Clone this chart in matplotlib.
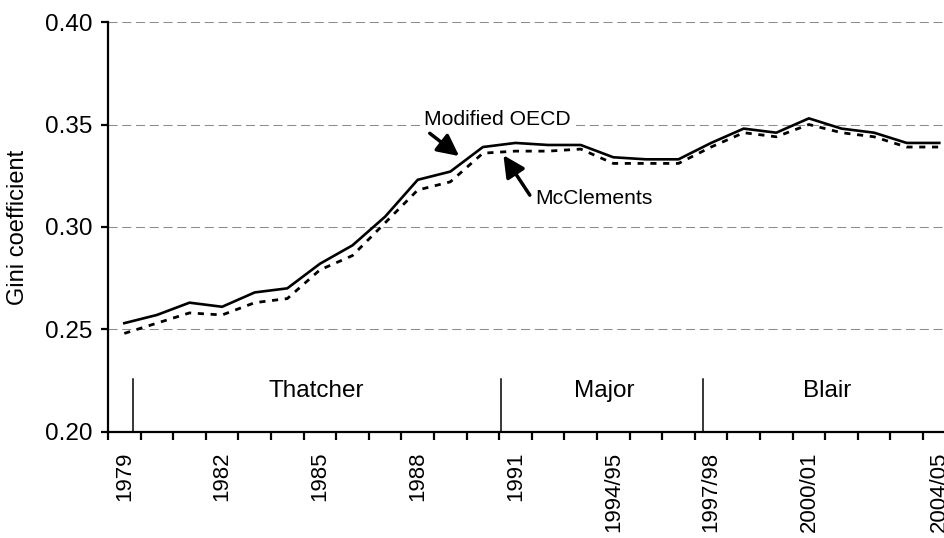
import numpy as np
import matplotlib
matplotlib.use("Agg")
import matplotlib.pyplot as plt

plt.rcParams['font.family'] = ['Liberation Sans', 'DejaVu Sans']

# categories: calendar years to 1992, financial years after
years = [str(y) for y in range(1979, 1993)] + \
        ['1993/94', '1994/95', '1995/96', '1996/97', '1997/98', '1998/99',
         '1999/00', '2000/01', '2001/02', '2002/03', '2003/04', '2004/05']
shown_labels = ['1979', '1982', '1985', '1988', '1991', '1994/95',
                '1997/98', '2000/01', '2004/05']

modified_oecd = [0.253, 0.257, 0.263, 0.261, 0.268, 0.270, 0.282, 0.291,
                 0.305, 0.323, 0.327, 0.339, 0.341, 0.340, 0.340, 0.334,
                 0.333, 0.333, 0.341, 0.348, 0.346, 0.353, 0.348, 0.346,
                 0.341, 0.341]
mcclements = [0.248, 0.253, 0.258, 0.257, 0.263, 0.265, 0.279, 0.286,
              0.302, 0.318, 0.322, 0.336, 0.337, 0.337, 0.338, 0.331,
              0.331, 0.331, 0.339, 0.346, 0.344, 0.350, 0.346, 0.344,
              0.339, 0.339]

# government periods: name, divider position (category units), label position
governments = ['Thatcher', 'Major', 'Blair']
divider_pos = [0.26, 11.54, 17.75]
label_pos = [5.9, 14.71, 21.55]

x = np.arange(len(years))

fig = plt.figure(figsize=(9.45, 5.38), dpi=100)
ax = fig.add_axes([0.1143, 0.1976, 0.8969, 0.7613])

# grid
for g in [0.25, 0.30, 0.35, 0.40]:
    ax.axhline(g, color='#8c8c8c', lw=0.75, dashes=(8.7, 4.5), zorder=1)

ax.plot(x, modified_oecd, color='black', lw=1.9, zorder=3)
ax.plot(x, mcclements, color='black', lw=2.0, dashes=(2.2, 2.4), zorder=3)

# government periods
for name, d, lp in zip(governments, divider_pos, label_pos):
    ax.plot([d, d], [0.20, 0.2257], color='black', lw=1.1)
    ax.text(lp, 0.2171, name, ha='center', va='baseline', fontsize=17.5)

# annotations
arrow = dict(arrowstyle='-|>,head_length=0.5,head_width=0.25',
             color='black', lw=2.5, mutation_scale=26, shrinkA=0, shrinkB=0)
ax.annotate('', xy=(10.27, 0.3346), xytext=(9.37, 0.3457),
            arrowprops=arrow, zorder=4)
ax.annotate('', xy=(11.63, 0.3350), xytext=(12.44, 0.3155),
            arrowprops=arrow, zorder=4)
ax.text(9.19, 0.3497, 'Modified OECD', ha='left', va='baseline', fontsize=15.2,
        bbox=dict(facecolor='white', edgecolor='none', pad=1.5), zorder=2)
ax.text(12.62, 0.3110, 'McClements', ha='left', va='baseline', fontsize=15.2,
        zorder=4)

ax.set_xlim(-0.5, len(years) - 0.5)
ax.set_ylim(0.20, 0.40)
ax.set_yticks([0.20, 0.25, 0.30, 0.35, 0.40])
ax.set_yticklabels(['0.20', '0.25', '0.30', '0.35', '0.40'])

label_idx = [years.index(s) for s in shown_labels]
ax.set_xticks(label_idx)
ax.set_xticklabels(shown_labels, rotation=90, va='top', ha='center')
ax.set_xticks(np.arange(-0.5, len(years)), minor=True)
ax.tick_params(axis='x', which='major', length=0, pad=14.5, labelsize=16)
ax.tick_params(axis='x', which='minor', length=5.5, width=1.6, direction='out')
ax.tick_params(axis='y', length=5, width=1.6, pad=6, labelsize=17.5)

ax.set_ylabel('Gini coefficient', fontsize=17)
ax.yaxis.set_label_coords(-0.093, 0.5)

for s in ['top', 'right']:
    ax.spines[s].set_visible(False)
for s in ['left', 'bottom']:
    ax.spines[s].set_linewidth(1.6)

fig.savefig('out.png', dpi=100)
